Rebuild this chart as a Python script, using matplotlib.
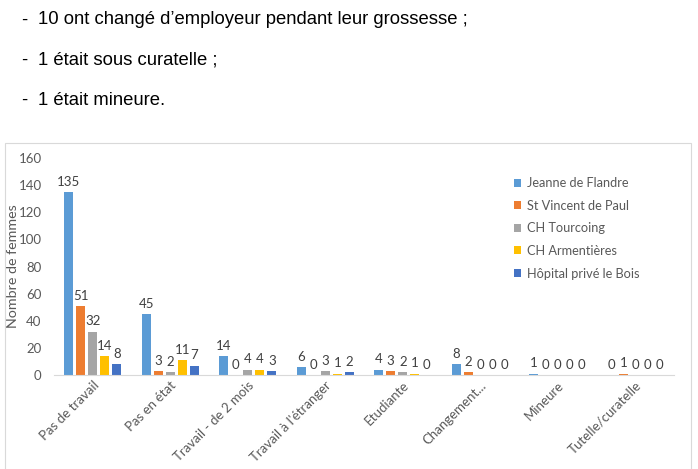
import matplotlib
matplotlib.use('Agg')
import matplotlib.pyplot as plt
from matplotlib.patches import Rectangle
import numpy as np

# données
categories = ['Pas de travail', 'Pas en état', 'Travail - de 2 mois', "Travail à l'étranger",
              'Etudiante', 'Changement...', 'Mineure', 'Tutelle/curatelle']
series = ['Jeanne de Flandre', 'St Vincent de Paul', 'CH Tourcoing', 'CH Armentières',
          'Hôpital privé le Bois']
jeanne = [135, 45, 14, 6, 4, 8, 1, 0]
vincent = [51, 3, 0, 0, 3, 2, 0, 1]
tourcoing = [32, 2, 4, 3, 2, 0, 0, 0]
armentieres = [14, 11, 4, 1, 1, 0, 0, 0]
bois = [8, 7, 3, 2, 0, 0, 0, 0]
bullets = ["10 ont changé d'employeur pendant leur grossesse ;",
           "1 était sous curatelle ;",
           "1 était mineure."]

colors = ['#5B9BD5', '#ED7D31', '#A5A5A5', '#FFC000', '#4472C4']
font = 'Lato'
grey = '#595959'

fig = plt.figure(figsize=(6.98, 4.69), dpi=100)

# texte au-dessus du graphique
for i, line in enumerate(bullets):
    y = 1 - (20 + 40 * i) / 469
    fig.text(21 / 698, y, '-', fontsize=13.3, family='Liberation Sans', va='center', color='black')
    fig.text(38 / 698, y, line.replace("'", "\u2019"), fontsize=13.3, family='Liberation Sans',
             va='center', color='black')

# cadre du graphique
fig.patches.append(Rectangle((5 / 698, -0.01), 686 / 698, (469 - 143) / 469 + 0.01,
                             transform=fig.transFigure, fill=False, ec='#D9D9D9', lw=0.8))

ax = fig.add_axes([54 / 698, 94 / 469, 620 / 698, 217 / 469])
x = np.arange(len(categories))
width = 0.12
step = 0.155
data = [jeanne, vincent, tourcoing, armentieres, bois]
for k, (vals, name, c) in enumerate(zip(data, series, colors)):
    pos = x + (k - 2) * step
    ax.bar(pos, vals, width, color=c, label=name)
    for xp, v in zip(pos, vals):
        ax.annotate(str(v), (xp, v), xytext=(0, 3), textcoords='offset points',
                    ha='center', va='bottom', fontsize=9.5, color='#404040', family=font)

ax.set_xlim(-0.5, len(categories) - 0.5)
ax.set_ylim(0, 160)
ax.set_yticks(range(0, 161, 20))
ax.tick_params(axis='y', length=0, labelsize=9.5, labelcolor=grey, pad=9)
ax.tick_params(axis='x', length=0, pad=3)
ax.set_xticks(x)
ax.set_xticklabels(categories, rotation=45, ha='right', va='top', rotation_mode='anchor',
                   fontsize=9.5, color=grey, family=font)
for lab in ax.get_yticklabels():
    lab.set_family(font)
for s in ['top', 'right', 'left']:
    ax.spines[s].set_visible(False)
ax.spines['bottom'].set_color('#D9D9D9')
ax.set_ylabel('Nombre de femmes', fontdict={'family': font, 'size': 10.3, 'color': grey},
              va='center')
ax.yaxis.set_label_coords(-0.066, 0.5)

leg = ax.legend(loc='upper left', bbox_to_anchor=(0.723, 0.965), frameon=False,
                handlelength=0.6, handleheight=0.6, handletextpad=0.4, labelspacing=0.83,
                prop={'family': font, 'size': 9.2})
for t in leg.get_texts():
    t.set_color(grey)

fig.savefig('out.png', dpi=100)
